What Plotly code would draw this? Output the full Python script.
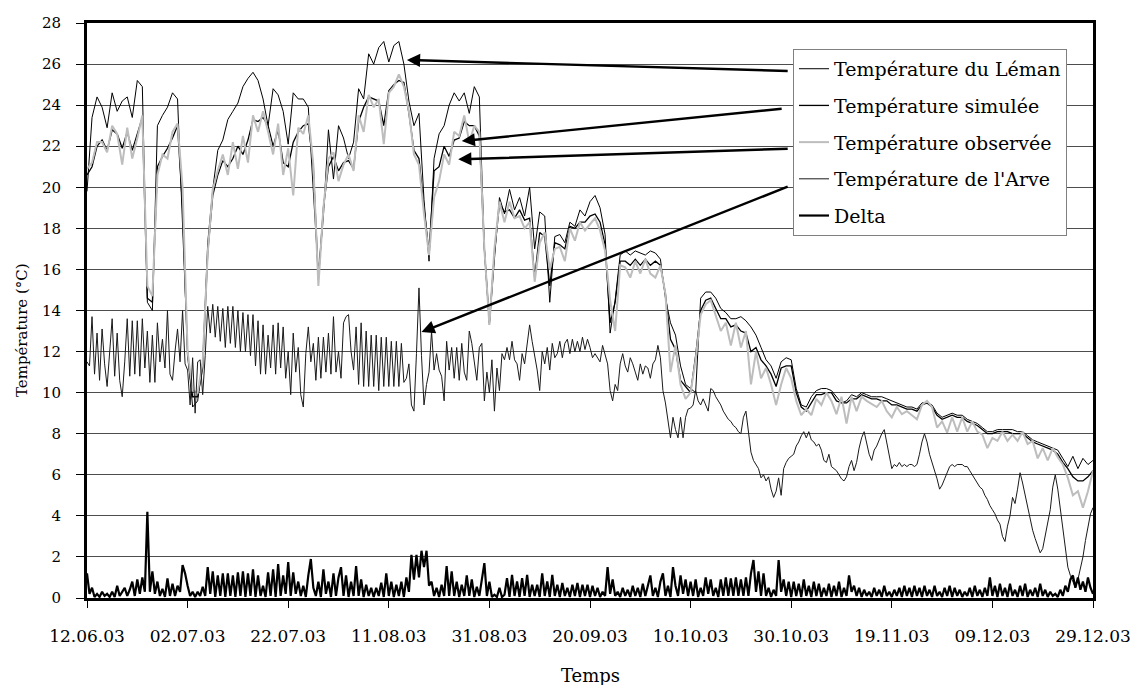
import pandas as pd
import plotly.graph_objects as go

# ---------------- data ----------------
start_date = "2003-06-12"
tick_labels = ["12.06.03", "02.07.03", "22.07.03", "11.08.03", "31.08.03", "20.09.03",
               "10.10.03", "30.10.03", "19.11.03", "09.12.03", "29.12.03"]
tick_step_days = 20

# daily values (day 0 = 12.06.03)
leman = [
    19.8, 23.4, 24.4, 23.9, 22.9, 24.6, 23.7, 24.2, 24.4, 23.4,
    25.2, 24.9, 14.4, 14.0, 23.0, 23.5, 23.9, 24.6, 24.3, 18.5,
    12.0, 9.3, 9.6, 11.5, 17.3, 19.9, 21.8, 22.3, 23.3, 23.7,
    24.1, 24.9, 25.3, 25.6, 25.2, 24.3, 23.0, 24.8, 24.5, 23.7,
    22.1, 24.6, 24.3, 24.3, 23.9, 19.8, 15.7, 18.6, 22.8, 20.4,
    23.0, 22.4, 21.4, 22.2, 24.8, 24.3, 26.5, 26.0, 26.8, 27.1,
    26.1, 26.9, 27.1, 26.0, 24.2, 23.0, 23.6, 19.4, 16.4, 21.4,
    22.6, 23.0, 24.0, 24.6, 24.2, 24.6, 23.6, 24.9, 24.4, 17.0,
    13.3, 16.5, 19.5, 18.7, 19.9, 18.9, 19.5, 18.6, 20.0, 17.0,
    18.8, 18.6, 14.4, 17.6, 17.7, 17.3, 18.3, 18.1, 18.9, 18.6,
    19.3, 19.6, 19.0, 17.7, 12.9, 14.5, 16.7, 16.9, 16.7, 16.9,
    16.8, 16.7, 16.9, 16.8, 16.5, 14.6, 13.4, 12.8, 11.3, 10.4,
    10.2, 10.0, 14.6, 14.9, 14.9, 14.6, 14.1, 13.9, 13.6, 13.6,
    13.7, 13.5, 13.2, 12.8, 12.2, 11.6, 11.3, 10.7, 11.5, 11.7,
    11.6, 10.2, 9.4, 9.3, 9.8, 10.1, 10.2, 10.2, 10.1, 9.8,
    9.5, 9.6, 9.9, 9.8, 10.0, 9.9, 9.8, 9.8, 9.8, 9.7,
    9.6, 9.5, 9.4, 9.3, 9.3, 9.2, 9.5, 9.5, 9.4, 9.0,
    8.8, 8.9, 9.0, 8.9, 8.9, 8.7, 8.6, 8.5, 8.3, 8.1,
    8.1, 8.2, 8.2, 8.2, 8.2, 8.1, 8.1, 7.9, 7.7, 7.6,
    7.5, 7.4, 7.3, 7.2, 6.8, 6.4, 6.9, 6.3, 6.8, 6.5,
    6.7,
]

simulee = [
    20.6, 21.0, 22.0, 22.3, 21.8, 22.8, 22.6, 21.9, 22.7, 21.8,
    22.6, 23.4, 14.6, 14.4, 21.0, 21.5, 21.9, 22.4, 23.0, 19.0,
    11.8, 9.8, 9.8, 11.2, 16.8, 19.6, 20.6, 21.3, 21.0, 21.4,
    22.0, 21.6, 22.3, 23.3, 23.2, 23.4, 23.0, 22.0, 22.8, 21.2,
    21.0, 22.2, 22.7, 23.0, 23.1, 21.0, 15.5, 19.0, 21.0, 21.5,
    20.8, 21.2, 21.3, 20.9, 23.2, 23.9, 24.4, 24.3, 24.2, 23.0,
    24.7, 25.0, 25.2, 25.1, 23.6, 21.8, 21.4, 19.0, 16.8, 20.8,
    21.0, 22.0, 21.5, 22.3, 22.4, 23.2, 23.0, 23.0, 22.5, 17.0,
    13.4, 16.8, 19.2, 18.8, 18.9, 18.5, 18.9, 18.4, 18.5, 15.6,
    17.8, 17.6, 15.2, 17.3, 17.2, 17.0, 18.1, 18.0, 18.3, 18.3,
    18.6, 18.7, 18.3, 17.2, 13.4, 14.4, 16.4, 16.4, 16.2, 16.5,
    16.2, 16.5, 16.2, 16.4, 16.2, 14.8, 12.6, 12.1, 10.6, 10.3,
    10.0, 11.8, 14.0, 14.5, 14.6, 14.1, 13.6, 13.6, 13.2, 13.3,
    13.0, 12.9, 12.0, 12.2, 11.6, 11.3, 10.9, 10.3, 11.2, 11.3,
    11.3, 10.0, 9.3, 9.1, 9.5, 9.9, 9.9, 10.0, 10.0, 9.6,
    9.5, 9.5, 9.7, 9.7, 9.9, 9.8, 9.7, 9.7, 9.6, 9.6,
    9.4, 9.4, 9.3, 9.2, 9.2, 9.1, 9.4, 9.5, 9.3, 8.9,
    8.7, 8.8, 8.9, 8.8, 8.8, 8.6, 8.5, 8.4, 8.2, 8.0,
    8.0, 8.1, 8.1, 8.1, 8.0, 8.0, 8.0, 7.8, 7.6, 7.5,
    7.4, 7.3, 7.2, 7.0, 6.6, 6.3, 5.9, 5.7, 5.7, 5.9,
    6.2,
]

observee = [
    20.9, 21.2, 22.2, 22.2, 21.7, 23.0, 22.6, 21.1, 22.9, 21.4,
    22.4, 23.5, 15.2, 14.7, 20.6, 21.6, 21.4, 22.7, 23.1, 20.0,
    12.0, 10.1, 10.0, 11.5, 16.8, 19.9, 20.8, 21.6, 20.6, 22.2,
    20.9, 22.5, 21.2, 23.5, 22.7, 23.7, 22.7, 21.6, 23.1, 20.6,
    21.9, 19.6, 22.9, 22.6, 23.5, 21.1, 15.2, 19.0, 21.4, 21.7,
    20.3, 21.1, 21.6, 20.8, 23.5, 22.7, 24.5, 23.9, 24.3, 22.1,
    24.6, 24.9, 25.5, 24.9, 23.7, 21.6, 21.1, 18.7, 16.7, 19.5,
    20.3, 21.6, 21.1, 22.7, 22.5, 23.5, 22.2, 23.0, 22.7, 17.0,
    13.3, 17.0, 19.3, 18.3, 19.3, 18.5, 18.6, 18.0, 18.3, 15.4,
    17.3, 17.8, 16.0, 17.0, 17.1, 16.4, 18.0, 17.4, 18.3, 17.9,
    18.2, 18.5, 17.9, 16.9, 14.5, 13.0, 16.2, 16.1, 15.6, 16.4,
    15.8, 16.5, 15.8, 15.6, 16.2, 14.8, 11.0, 12.3, 10.4, 9.7,
    10.0, 11.6, 13.8, 14.3, 14.5, 13.7, 13.0, 13.4, 12.3, 13.4,
    12.2, 13.0, 10.4, 12.0, 10.7, 11.2, 10.4, 9.4, 10.4, 11.2,
    10.7, 9.6, 8.9, 9.2, 8.9, 9.7, 9.4, 10.0, 9.6, 8.95,
    9.8, 8.5, 9.8, 9.1, 9.8, 9.6, 9.45, 9.3, 9.6, 9.1,
    8.8, 9.3, 8.95, 9.1, 8.9, 8.7, 9.4, 9.6, 9.3, 8.3,
    8.6, 8.05, 8.8, 8.1, 8.8, 8.1, 8.6, 8.1, 7.95, 7.3,
    7.8, 7.65, 8.1, 7.65, 7.95, 7.65, 8.1, 7.5, 7.65, 6.8,
    7.3, 6.7, 7.3, 6.85, 6.5, 5.85, 5.0, 5.2, 4.4, 5.2,
    6.2,
]

# half-day values (every 12 h, starting 12.06.03)
arve = [
    11.5, 11.3, 13.7, 10.9, 12.9, 10.6, 13.1, 11.4, 10.3, 11.8,
    13.6, 10.8, 12.9, 10.6, 9.8, 11.5, 13.6, 10.8, 13.5, 10.9,
    13.5, 10.8, 13.6, 11.2, 13.0, 10.5, 12.8, 10.5, 13.4, 11.5,
    12.6, 11.2, 14.0, 10.9, 10.6, 12.0, 13.1, 11.5, 14.0, 11.4,
    11.1, 9.4, 11.7, 9.0, 11.5, 11.6, 9.9, 11.8, 14.2, 12.9,
    14.3, 12.7, 14.2, 12.5, 14.1, 12.2, 14.2, 12.4, 14.2, 12.2,
    14.0, 12.0, 13.9, 12.0, 13.8, 11.8, 13.8, 11.3, 13.5, 10.9,
    13.3, 10.9, 12.8, 11.2, 13.3, 10.9, 13.4, 11.2, 13.2, 10.7,
    12.0, 9.9, 12.9, 11.0, 12.2, 9.9, 9.3, 11.9, 13.2, 11.5,
    12.4, 10.6, 12.7, 10.7, 12.7, 11.0, 12.9, 10.9, 13.7, 11.0,
    12.0, 10.7, 13.4, 13.7, 13.8, 12.0, 11.1, 13.2, 10.4, 13.4,
    10.3, 13.0, 10.3, 12.8, 10.3, 12.8, 10.1, 12.7, 10.3, 12.7,
    10.3, 12.5, 10.3, 12.5, 10.3, 12.4, 10.5, 10.7, 11.4, 9.4,
    9.1, 11.9, 15.1, 11.8, 9.4, 10.4, 11.0, 13.0, 11.1, 11.9,
    11.1, 10.8, 9.6, 12.5, 11.1, 12.2, 10.7, 12.2, 10.6, 12.4,
    11.0, 10.6, 13.0, 12.4, 11.5, 10.6, 12.2, 12.4, 9.6, 11.0,
    10.0, 11.6, 9.1, 11.2, 10.1, 11.9, 11.6, 12.2, 11.6, 12.5,
    11.6, 11.4, 10.6, 11.9, 11.4, 12.5, 13.3, 12.5, 11.8, 11.1,
    10.1, 12.0, 11.4, 12.2, 11.1, 12.4, 11.7, 11.9, 12.5, 11.7,
    12.4, 12.6, 11.9, 12.6, 12.0, 12.5, 12.0, 12.7, 12.1, 12.6,
    12.2, 11.7, 11.9, 11.7, 11.5, 12.3, 11.8, 11.4, 10.1, 9.6,
    10.4, 10.1, 11.4, 11.9, 11.3, 11.0, 11.7, 11.4, 11.0, 10.6,
    11.4, 10.9, 11.3, 11.2, 10.7, 11.4, 11.6, 12.3, 11.7, 10.1,
    9.5, 8.6, 7.8, 8.8, 8.2, 7.8, 8.8, 7.8, 8.8, 9.2,
    9.25, 9.4, 10.1, 9.6, 9.4, 9.7, 9.4, 9.1, 10.2, 10.1,
    9.8, 9.6, 9.4, 9.1, 8.9, 8.7, 8.6, 8.4, 8.3, 8.1,
    8.0, 8.8, 9.1, 8.0, 7.1, 6.7, 6.5, 6.3, 5.85, 6.0,
    5.7, 5.9, 5.3, 4.9, 5.2, 5.85, 5.0, 6.3, 6.6, 6.8,
    6.9, 7.0, 7.4, 7.6, 7.9, 8.1, 7.8, 8.1, 7.7, 7.6,
    7.4, 7.5, 7.2, 6.7, 6.6, 7.0, 6.4, 6.3, 6.2, 6.0,
    5.8, 5.7, 5.9, 6.4, 6.7, 6.2, 6.6, 7.3, 7.8, 8.1,
    7.6, 7.0, 6.7, 7.2, 7.4, 7.7, 8.0, 8.2, 7.5, 6.8,
    6.3, 6.5, 6.4, 6.6, 6.4, 6.5, 6.4, 6.5, 6.5, 6.4,
    6.5, 7.0, 7.6, 8.0, 7.6, 7.0, 6.6, 6.3, 5.8, 5.3,
    5.5, 5.8, 6.1, 6.4, 6.5, 6.4, 6.5, 6.5, 6.5, 6.4,
    6.4, 6.2, 6.0, 5.8, 5.6, 5.4, 5.3, 5.0, 4.8, 4.5,
    4.3, 4.1, 3.8, 3.6, 3.0, 2.75, 3.5, 4.0, 4.9, 4.6,
    5.3, 6.1, 5.6, 5.0, 4.4, 3.9, 3.3, 2.9, 2.5, 2.2,
    2.4, 3.0, 3.7, 4.3, 5.4, 6.0, 5.3, 4.4, 3.4, 2.6,
    1.5, 1.1, 0.8, 0.5, 0.9, 1.4, 2.0, 2.8, 3.4, 4.1,
    4.4,
]

delta = [
    1.2, 0.2, 0.5, 0.05, 0.2, 0.05, 0.3, 0.1, 0.2, 0.05,
    0.3, 0.05, 0.6, 0.1, 0.3, 0.5, 0.1, 0.4, 0.8, 0.1,
    0.9, 0.2, 1.0, 0.3, 4.2, 0.3, 1.3, 0.2, 0.8, 0.1,
    0.45, 0.05, 0.95, 0.1, 0.7, 0.1, 0.6, 0.3, 1.6, 1.2,
    0.6, 0.1, 0.3, 0.05, 0.3, 0.1, 0.55, 0.1, 1.5, 0.2,
    1.3, 0.05, 1.1, 0.1, 1.2, 0.05, 1.2, 0.1, 1.1, 0.05,
    1.25, 0.1, 1.3, 0.05, 1.2, 0.1, 1.4, 0.05, 1.1, 0.1,
    0.6, 0.05, 1.25, 0.1, 1.4, 0.05, 1.65, 0.1, 1.1, 0.2,
    1.75, 0.1, 1.25, 0.2, 0.8, 0.1, 0.6, 0.05, 1.1, 1.9,
    0.5, 0.1, 0.8, 0.05, 1.4, 0.2, 0.8, 0.05, 1.2, 0.1,
    1.0, 1.5, 0.1, 1.1, 0.05, 0.8, 0.1, 1.55, 0.1, 0.9,
    0.05, 0.65, 0.1, 0.5, 0.05, 0.5, 0.1, 0.75, 0.05, 1.2,
    0.1, 0.8, 0.05, 0.65, 0.1, 0.8, 0.05, 1.0, 0.3, 2.1,
    0.9, 2.1, 1.0, 2.3, 1.5, 2.3, 0.6, 0.8, 0.1, 0.5,
    0.05, 0.65, 0.1, 1.55, 0.1, 1.3, 0.1, 0.8, 0.05, 0.65,
    0.1, 1.1, 0.1, 0.9, 0.05, 0.55, 0.1, 0.97, 1.7, 0.1,
    0.8, 0.05, 0.16, 0.05, 0.5, 0.05, 0.16, 0.97, 0.05, 1.13,
    0.1, 0.81, 0.05, 0.97, 0.1, 1.13, 0.05, 0.65, 0.1, 0.65,
    0.05, 1.2, 0.1, 0.81, 0.05, 1.13, 0.1, 0.65, 0.05, 0.73,
    0.1, 0.5, 0.05, 0.65, 0.1, 0.73, 0.05, 0.65, 0.1, 0.65,
    0.05, 0.6, 0.1, 0.5, 0.05, 0.3, 0.1, 1.5, 0.2, 0.9,
    0.1, 0.3, 0.05, 0.5, 0.1, 0.4, 0.05, 0.6, 0.1, 0.5,
    0.05, 0.7, 0.1, 0.6, 1.1, 0.1, 0.5, 0.05, 0.8, 1.2,
    0.1, 0.6, 0.05, 1.5, 0.6, 0.1, 1.1, 0.2, 0.9, 0.1,
    0.8, 0.1, 0.9, 0.05, 0.5, 0.1, 1.0, 0.2, 0.9, 0.1,
    0.5, 0.05, 0.9, 0.1, 1.0, 0.1, 0.95, 0.1, 1.0, 0.1,
    0.9, 0.1, 1.0, 0.1, 1.2, 1.85, 0.3, 1.3, 0.1, 1.2,
    0.1, 0.5, 0.05, 0.4, 0.1, 1.85, 0.3, 0.9, 0.1, 0.8,
    0.05, 0.8, 0.1, 0.7, 0.05, 0.9, 0.1, 0.6, 0.05, 0.8,
    0.1, 0.7, 0.05, 0.5, 0.1, 0.7, 0.05, 0.6, 0.1, 0.8,
    0.05, 0.5, 0.1, 1.1, 0.3, 0.6, 0.1, 0.5, 0.05, 0.4,
    0.1, 0.3, 0.05, 0.5, 0.1, 0.4, 0.05, 0.6, 0.1, 0.3,
    0.05, 0.4, 0.1, 0.5, 0.05, 0.6, 0.1, 0.5, 0.05, 0.6,
    0.1, 0.5, 0.05, 0.6, 0.1, 0.4, 0.05, 0.6, 0.1, 0.3,
    0.05, 0.5, 0.1, 0.6, 0.05, 0.5, 0.1, 0.4, 0.05, 0.3,
    0.1, 0.5, 0.05, 0.6, 0.1, 0.4, 0.05, 0.5, 0.1, 1.0,
    0.1, 0.6, 0.05, 0.7, 0.1, 0.5, 0.05, 0.7, 0.1, 0.4,
    0.05, 0.6, 0.1, 0.7, 0.05, 0.4, 0.1, 0.5, 0.05, 0.7,
    0.1, 0.4, 0.05, 0.3, 0.1, 0.2, 0.05, 0.4, 0.1, 0.6,
    0.3, 0.9, 1.1, 0.5, 1.0, 0.4, 0.8, 0.3, 1.0, 0.5,
    0.2,
]

# arrows: (tip day, tip value, tail day, tail value) - day offsets from start_date
arrow_days_tip = [63.6, 74.5, 73.8, 66.5]
arrow_vals_tip = [26.2, 22.25, 21.36, 12.95]
arrow_days_tail = [139.6, 138.4, 139.6, 139.6]
arrow_vals_tail = [25.66, 23.83, 21.88, 20.06]

# ---------------- figure ----------------
FONT = "DejaVu Serif"
t0 = pd.Timestamp(start_date)
x_daily = [t0 + pd.Timedelta(days=i) for i in range(len(leman))]
x_half_a = [t0 + pd.Timedelta(hours=12 * i) for i in range(len(arve))]
x_half_d = [t0 + pd.Timedelta(hours=12 * i) for i in range(len(delta))]

fig = go.Figure()
series = [
    ("Température du Léman", x_daily, leman, "#000000", 1.0),
    ("Température simulée", x_daily, simulee, "#000000", 1.3),
    ("Température observée", x_daily, observee, "#bdbdbd", 2.0),
    ("Température de l'Arve", x_half_a, arve, "#1a1a1a", 1.0),
    ("Delta", x_half_d, delta, "#000000", 2.2),
]
for i, (name, xs, ys, col, w) in enumerate(series):
    fig.add_trace(go.Scatter(x=xs, y=ys, mode="lines", name=name,
                             legendgroup=str(i),
                             line=dict(color=col, width=w)))

tickvals = [t0 + pd.Timedelta(days=tick_step_days * k) for k in range(len(tick_labels))]


def dstr(d):
    return (t0 + pd.Timedelta(days=d)).strftime("%Y-%m-%d %H:%M:%S")


annotations = []
for xt, yt, xa, ya in zip(arrow_days_tip, arrow_vals_tip, arrow_days_tail, arrow_vals_tail):
    annotations.append(dict(x=dstr(xt), y=yt, ax=dstr(xa), ay=ya, xref="x", yref="y",
                            axref="x", ayref="y", text="", showarrow=True,
                            arrowhead=2, arrowsize=1.1, arrowwidth=2.4,
                            arrowcolor="#000000", standoff=0))

annotations.append(dict(text="Température (°C)", xref="paper", yref="paper",
                        x=-0.0646, y=0.466, xanchor="center", yanchor="middle",
                        textangle=-90, showarrow=False,
                        font=dict(family=FONT, size=15, color="#000000")))
annotations.append(dict(text="Temps", xref="paper", yref="paper",
                        x=0.5, y=-0.134, xanchor="center", yanchor="middle",
                        showarrow=False,
                        font=dict(family=FONT, size=18, color="#000000")))

fig.update_layout(
    width=1131, height=685,
    margin=dict(l=87, r=38, t=23, b=87),
    paper_bgcolor="white", plot_bgcolor="white",
    font=dict(family=FONT, color="#000000"),
    showlegend=True,
    legend=dict(x=0.7018, y=0.955, xanchor="left", yanchor="top",
                bgcolor="white", bordercolor="#808080", borderwidth=1,
                font=dict(family=FONT, size=19, color="#000000"),
                tracegroupgap=9, itemwidth=30),
    annotations=annotations,
    xaxis=dict(type="date", automargin=False,
               range=[tickvals[0], tickvals[-1]],
               tickmode="array", tickvals=tickvals, ticktext=tick_labels,
               ticks="outside", ticklen=7, tickwidth=1, tickcolor="#000000",
               ticklabelstandoff=14,
               tickfont=dict(family=FONT, size=17, color="#000000"),
               showgrid=False, zeroline=False,
               showline=True, linewidth=3, linecolor="#000000", mirror=True),
    yaxis=dict(range=[0, 28], dtick=2, tick0=0, automargin=False,
               ticks="outside", ticklen=8, tickwidth=1, tickcolor="#000000",
               ticklabelstandoff=12,
               tickfont=dict(family=FONT, size=15, color="#000000"),
               showgrid=True, gridcolor="#4d4d4d", gridwidth=1,
               zeroline=False,
               showline=True, linewidth=3, linecolor="#000000", mirror=True),
)

fig.write_html("out.html", config={"displayModeBar": False},
               post_script=("document.documentElement.style.overflow='hidden';"
                            "document.body.style.margin='0';"
                            "document.body.style.overflow='hidden';"))
